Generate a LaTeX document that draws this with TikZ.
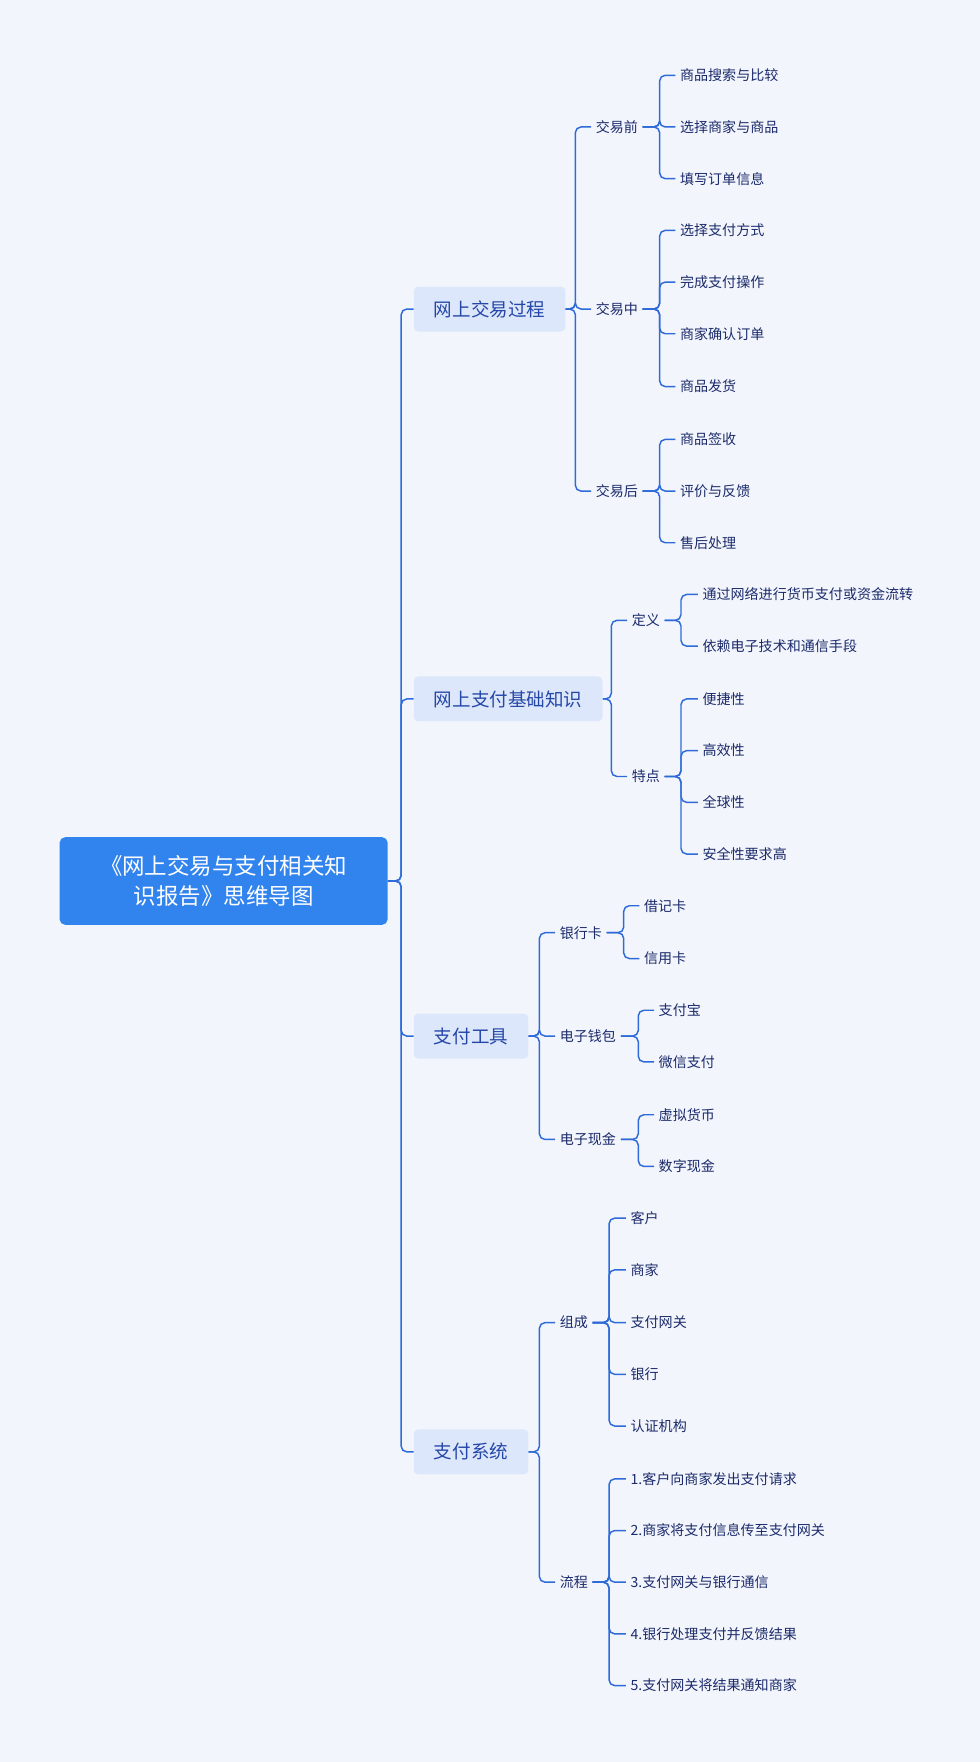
\documentclass[tikz,border=0pt]{standalone}
\usepackage{fontspec}
\setmainfont{Noto Sans CJK SC}
\usetikzlibrary{positioning}
\definecolor{bgc}{HTML}{F3F5FC}
\definecolor{linec}{HTML}{2E6BD9}
\definecolor{rootc}{HTML}{3183EE}
\definecolor{boxc}{HTML}{DDE7FB}
\definecolor{txtc}{HTML}{1B2B6B}
\definecolor{boxt}{HTML}{2447A8}
\newcommand{\conn}[3]{\draw[link] (#1.east) -- (#1.east -| #2) |- (#3.west);}
\begin{document}
\begin{tikzpicture}[x=1pt,y=-1pt,
  root_node/.style={fill=rootc,text=white,rounded corners=5pt,minimum width=292pt,minimum height=78pt,align=center,font=\fontsize{20}{27}\selectfont},
  main_node/.style={fill=boxc,text=boxt,rounded corners=4pt,anchor=west,minimum height=40pt,inner xsep=18pt,font=\fontsize{16.5}{20}\selectfont},
  sub_node/.style={anchor=west,inner sep=4pt,text=txtc,font=\fontsize{12.5}{15}\selectfont},
  link/.style={draw=linec,line width=1.3pt,rounded corners=5pt}]
\fill[bgc] (0,0) rectangle (872,1568);
\useasboundingbox (0,0) rectangle (872,1568);

\node[root_node] (root) at (199,784) {《网上交易与支付相关知\\识报告》思维导图};
\coordinate (t) at (357,0);

\node[main_node] (a) at (368,275) {网上交易过程};
\node[main_node] (b) at (368,622) {网上支付基础知识};
\node[main_node] (c) at (368,922) {支付工具};
\node[main_node] (d) at (368,1292) {支付系统};
\foreach \n in {a,b,c,d} {\conn{root}{t}{\n}}

% 网上交易过程
\coordinate (ta) at (512,0);
\node[sub_node] (a1) at (526,113) {交易前};
\node[sub_node] (a2) at (526,275) {交易中};
\node[sub_node] (a3) at (526,437) {交易后};
\foreach \n in {a1,a2,a3} {\conn{a}{ta}{\n}}
\coordinate (tb) at (587,0);
\node[sub_node] (a11) at (601,67) {商品搜索与比较};
\node[sub_node] (a12) at (601,113) {选择商家与商品};
\node[sub_node] (a13) at (601,159) {填写订单信息};
\foreach \n in {a11,a12,a13} {\conn{a1}{tb}{\n}}
\node[sub_node] (a21) at (601,205) {选择支付方式};
\node[sub_node] (a22) at (601,251) {完成支付操作};
\node[sub_node] (a23) at (601,297) {商家确认订单};
\node[sub_node] (a24) at (601,344) {商品发货};
\foreach \n in {a21,a22,a23,a24} {\conn{a2}{tb}{\n}}
\node[sub_node] (a31) at (601,391) {商品签收};
\node[sub_node] (a32) at (601,437) {评价与反馈};
\node[sub_node] (a33) at (601,483) {售后处理};
\foreach \n in {a31,a32,a33} {\conn{a3}{tb}{\n}}

% 网上支付基础知识
\coordinate (tc) at (544,0);
\node[sub_node] (b1) at (558,552) {定义};
\node[sub_node] (b2) at (558,691) {特点};
\foreach \n in {b1,b2} {\conn{b}{tc}{\n}}
\coordinate (td) at (606,0);
\node[sub_node] (b11) at (621,529) {通过网络进行货币支付或资金流转};
\node[sub_node] (b12) at (621,575) {依赖电子技术和通信手段};
\foreach \n in {b11,b12} {\conn{b1}{td}{\n}}
\node[sub_node] (b21) at (621,622) {便捷性};
\node[sub_node] (b22) at (621,668) {高效性};
\node[sub_node] (b23) at (621,714) {全球性};
\node[sub_node] (b24) at (621,760) {安全性要求高};
\foreach \n in {b21,b22,b23,b24} {\conn{b2}{td}{\n}}

% 支付工具
\coordinate (te) at (480,0);
\node[sub_node] (c1) at (494,830) {银行卡};
\node[sub_node] (c2) at (494,922) {电子钱包};
\node[sub_node] (c3) at (494,1014) {电子现金};
\foreach \n in {c1,c2,c3} {\conn{c}{te}{\n}}
\coordinate (tf) at (555,0);
\coordinate (tg) at (568,0);
\node[sub_node] (c11) at (569,806) {借记卡};
\node[sub_node] (c12) at (569,853) {信用卡};
\foreach \n in {c11,c12} {\conn{c1}{tf}{\n}}
\node[sub_node] (c21) at (582,899) {支付宝};
\node[sub_node] (c22) at (582,945) {微信支付};
\foreach \n in {c21,c22} {\conn{c2}{tg}{\n}}
\node[sub_node] (c31) at (582,992) {虚拟货币};
\node[sub_node] (c32) at (582,1038) {数字现金};
\foreach \n in {c31,c32} {\conn{c3}{tg}{\n}}

% 支付系统
\node[sub_node] (d1) at (494,1177) {组成};
\node[sub_node] (d2) at (494,1408) {流程};
\foreach \n in {d1,d2} {\conn{d}{te}{\n}}
\coordinate (th) at (542,0);
\node[sub_node] (d11) at (557,1084) {客户};
\node[sub_node] (d12) at (557,1130) {商家};
\node[sub_node] (d13) at (557,1177) {支付网关};
\node[sub_node] (d14) at (557,1223) {银行};
\node[sub_node] (d15) at (557,1269) {认证机构};
\foreach \n in {d11,d12,d13,d14,d15} {\conn{d1}{th}{\n}}
\node[sub_node] (d21) at (557,1316) {1.客户向商家发出支付请求};
\node[sub_node] (d22) at (557,1362) {2.商家将支付信息传至支付网关};
\node[sub_node] (d23) at (557,1408) {3.支付网关与银行通信};
\node[sub_node] (d24) at (557,1454) {4.银行处理支付并反馈结果};
\node[sub_node] (d25) at (557,1500) {5.支付网关将结果通知商家};
\foreach \n in {d21,d22,d23,d24,d25} {\conn{d2}{th}{\n}}
\end{tikzpicture}
\end{document}
